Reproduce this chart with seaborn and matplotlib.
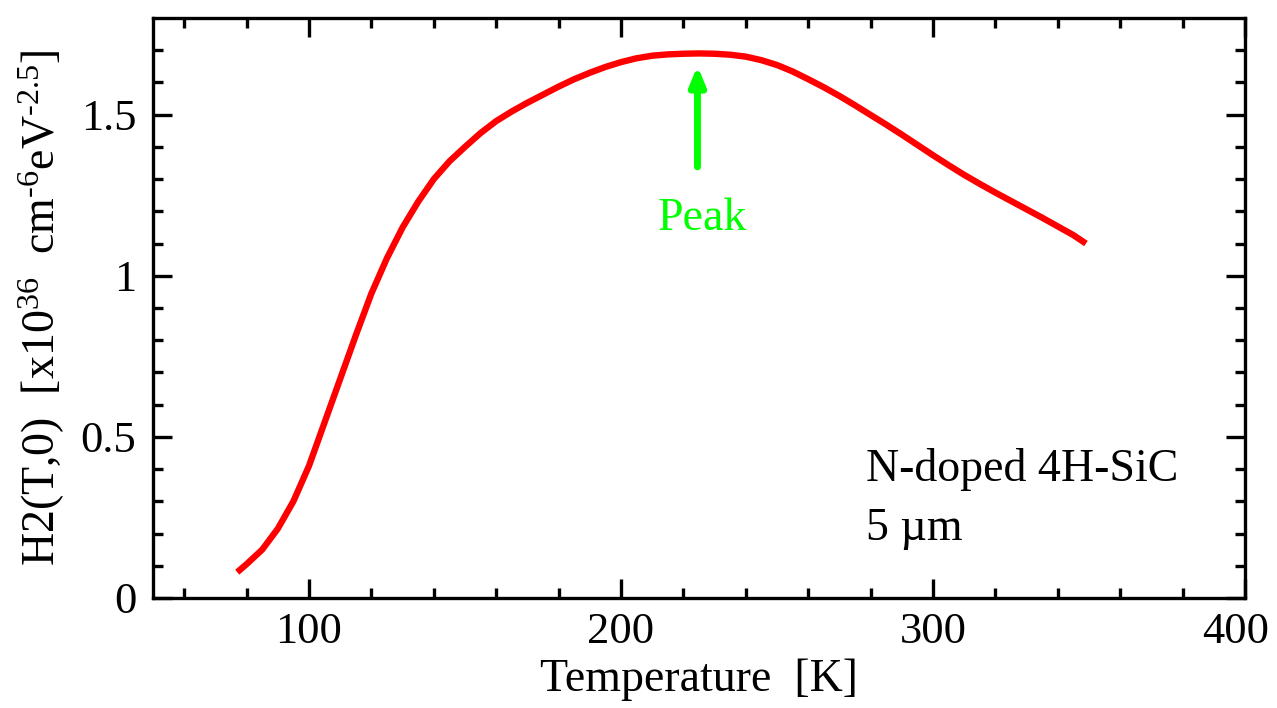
import matplotlib
matplotlib.use("Agg")
import matplotlib.pyplot as plt
import matplotlib.transforms as mtransforms
import seaborn as sns
import pandas as pd

# H2(T,0) for N-doped 4H-SiC, 5 um layer
temperature_K = [77, 80, 85, 90, 95, 100, 105, 110, 115, 120, 125, 130, 135,
                 140, 145, 150, 155, 160, 165, 170, 175, 180, 185, 190, 195,
                 200, 205, 210, 215, 220, 225, 230, 235, 240, 245, 250, 255,
                 260, 265, 270, 275, 280, 285, 290, 295, 300, 305, 310, 315,
                 320, 325, 330, 335, 340, 345, 349]
h2_value = [0.08, 0.105, 0.15, 0.215, 0.30, 0.41, 0.545, 0.68, 0.815, 0.945,
            1.055, 1.15, 1.23, 1.30, 1.355, 1.40, 1.443, 1.48, 1.51, 1.537,
            1.562, 1.587, 1.61, 1.63, 1.648, 1.663, 1.675, 1.683, 1.687,
            1.689, 1.69, 1.689, 1.686, 1.68, 1.669, 1.654, 1.634, 1.61,
            1.585, 1.558, 1.529, 1.499, 1.469, 1.438, 1.406, 1.374, 1.343,
            1.313, 1.285, 1.258, 1.232, 1.206, 1.18, 1.153, 1.126, 1.10]

x_major_ticks = [100, 200, 300, 400]
y_major_ticks = [0, 0.5, 1, 1.5]
y_tick_labels = ["0", "0.5", "1", "1.5"]

peak_T = 224.5
sample_lines = ["N-doped 4H-SiC", "5 \u00b5m"]

df = pd.DataFrame({"T": temperature_K, "H2": h2_value})

sns.set_style("ticks")
plt.rcParams["font.family"] = ["Liberation Serif", "DejaVu Serif"]
plt.rcParams["mathtext.fontset"] = "custom"
plt.rcParams["mathtext.rm"] = "Liberation Serif"
plt.rcParams["mathtext.it"] = "Liberation Serif:italic"
plt.rcParams["mathtext.bf"] = "Liberation Serif:bold"
plt.rcParams["text.color"] = "black"
plt.rcParams["axes.labelcolor"] = "black"

FS = 33

fig = plt.figure(figsize=(12.77, 7.08), dpi=100)
ax = fig.add_axes([0.1198, 0.1554, 0.8552, 0.8192])

sns.lineplot(data=df, x="T", y="H2", ax=ax, color="#ff0000", lw=4.6,
             solid_capstyle="butt", solid_joinstyle="round")

ax.set_xlim(50, 400)
ax.set_ylim(0, 1.8)
ax.set_xticks(x_major_ticks)
ax.set_xticks(range(60, 400, 20), minor=True)
ax.set_yticks(y_major_ticks)
ax.set_yticklabels(y_tick_labels)
ax.set_yticks([i / 10 for i in range(1, 18)], minor=True)

for s in ax.spines.values():
    s.set_linewidth(2.4)
    s.set_color("black")

ax.tick_params(which="both", direction="in", top=True, right=True,
               width=2.4, colors="black", labelsize=32)
ax.tick_params(which="major", length=13.5, pad=10)
ax.tick_params(which="minor", length=7)
ax.tick_params(axis="y", which="major", pad=12)

# keep the rightmost x tick label inside the canvas
last_label = ax.get_xticklabels()[-1]
last_label.set_transform(last_label.get_transform() +
                         mtransforms.ScaledTranslation(-0.09, 0, fig.dpi_scale_trans))

ax.set_xlabel("Temperature  [K]", fontsize=FS, labelpad=5, color="black")
ax.set_ylabel(r"H2(T,0)  [x10$^{36}$  cm$^{\text{-6}}$eV$^{\text{-2.5}}$]",
              fontsize=FS, labelpad=10, color="black")

# Peak marker
ax.annotate("", xy=(peak_T, 1.652), xytext=(peak_T, 1.338),
            arrowprops=dict(arrowstyle="-|>,head_length=1.1,head_width=0.45",
                            color="#00ff00", lw=5, shrinkA=0, shrinkB=0))
ax.text(226, 1.143, "Peak", color="#00ff00", fontsize=FS,
        ha="center", va="baseline")

ax.text(278.5, 0.363, sample_lines[0], fontsize=FS, ha="left",
        va="baseline", color="black")
ax.text(278.5, 0.180, sample_lines[1], fontsize=FS, ha="left",
        va="baseline", color="black")

fig.savefig("out.png", dpi=100)
